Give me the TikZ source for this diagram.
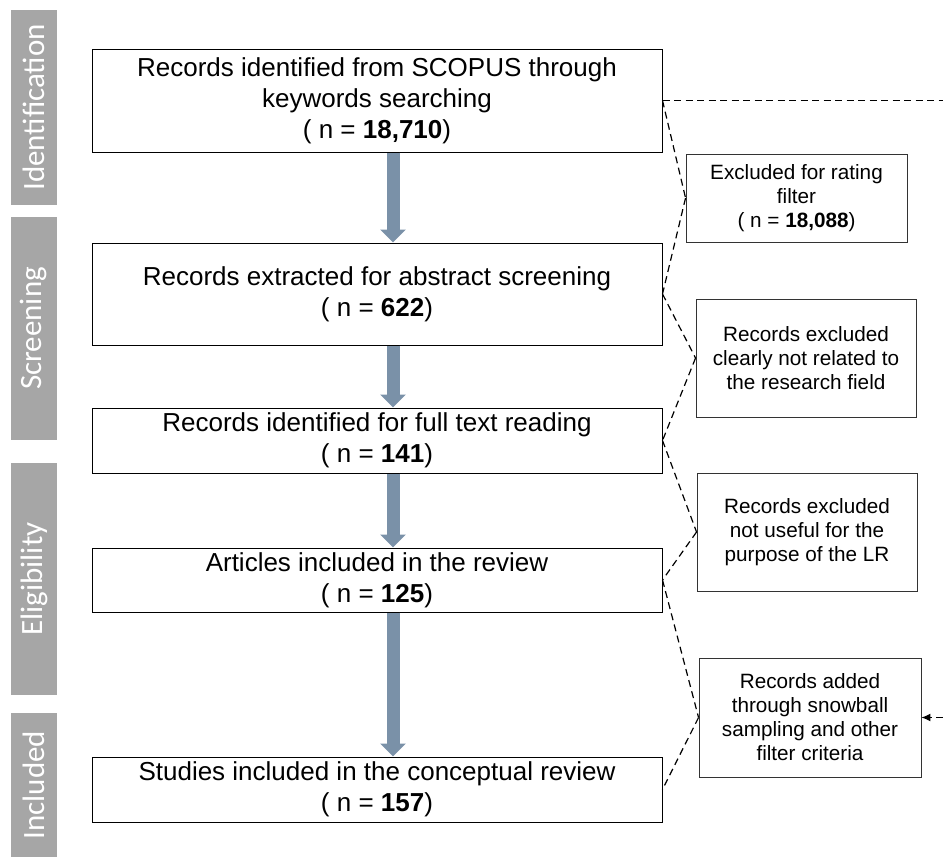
\documentclass[tikz,border=0pt]{standalone}
\usepackage{fontspec}
\setmainfont{Liberation Sans}
\newfontfamily\labfont{Carlito}
\usetikzlibrary{arrows.meta,calc}
\definecolor{labgray}{HTML}{A6A6A6}
\definecolor{flowblue}{HTML}{7A91A8}
\tikzset{
  mainbox/.style={draw=black, line width=1pt, minimum width=570pt, inner sep=0pt,
    align=center, font={\fontsize{26}{31}\selectfont}},
  sidebox/.style={draw=black!80, line width=0.9pt, minimum width=220pt, inner sep=0pt,
    align=center, font={\fontsize{20.7}{24}\selectfont}},
  phase/.style={fill=labgray, minimum width=46pt, inner sep=0pt, text=white,
    font={\labfont\fontsize{31}{31}\selectfont}},
  flowarrow/.style={draw=flowblue, line width=13pt,
    -{Triangle[width=25pt,length=13pt]}, shorten >=0pt},
  dashlink/.style={draw=black, line width=1.2pt, dash pattern=on 7pt off 4.5pt}
}
\begin{document}
\begin{tikzpicture}[x=1pt,y=-1pt]
\useasboundingbox (0,0) rectangle (943,857);
% phase labels
\node[phase, minimum height=195pt] (p1) at (34,107.5) {\rotatebox{90}{Identification}};
\node[phase, minimum height=223pt] (p2) at (34,328.5) {\rotatebox{90}{Screening}};
\node[phase, minimum height=232pt] (p3) at (34,579) {\rotatebox{90}{Eligibility}};
\node[phase, minimum height=144pt] (p4) at (34,785) {\rotatebox{90}{Included}};
% main boxes
\node[mainbox, minimum height=103pt] (b1) at (377,100.5)
  {Records identified from SCOPUS through\\keywords searching\\( n = \textbf{18,710})};
\node[mainbox, minimum height=102pt] (b2) at (377,294)
  {Records extracted for abstract screening\\( n = \textbf{622})};
\node[mainbox, minimum height=65pt] (b3) at (377,440.5)
  {Records identified for full text reading\\( n = \textbf{141})};
\node[mainbox, minimum height=64pt] (b4) at (377,580)
  {Articles included in the review\\( n = \textbf{125})};
\node[mainbox, minimum height=65pt] (b5) at (377,789.5)
  {Studies included in the conceptual review\\( n = \textbf{157})};
% side boxes
\node[sidebox, minimum width=221pt, minimum height=88pt] (e1) at (796.5,198)
  {Excluded for rating\\filter\\( n = \textbf{18,088})};
\node[sidebox, minimum height=118pt] (e2) at (806,358)
  {Records excluded\\clearly not related to\\the research field};
\node[sidebox, minimum height=118pt] (e3) at (807,532)
  {Records excluded\\not useful for the\\purpose of the LR};
\node[sidebox, minimum width=222pt, minimum height=119pt] (e4) at (810,717.5)
  {Records added\\through snowball\\sampling and other\\filter criteria};
% flow arrows
\coordinate (ax) at (393,0);
\draw[flowarrow] (b1.south -| ax) -- (b2.north -| ax);
\draw[flowarrow] (b2.south -| ax) -- (b3.north -| ax);
\draw[flowarrow] (b3.south -| ax) -- (b4.north -| ax);
\draw[flowarrow] (b4.south -| ax) -- (b5.north -| ax);
% dashed links
\draw[dashlink] (b1.east) -- (e1.west);
\draw[dashlink] (e1.west) -- (b2.east);
\draw[dashlink] (b2.east) -- (e2.west);
\draw[dashlink] (e2.west) -- (b3.east);
\draw[dashlink] (b3.east) -- (e3.west);
\draw[dashlink] (e3.west) -- (b4.east);
\draw[dashlink] (b4.east) -- (e4.west);
\draw[dashlink] (e4.west) -- (b5.east);
\coordinate (r1) at (943,100.5);
\coordinate (r2) at (943,717.5);
\draw[dashlink] (b1.east) -- (r1);
\draw[dashlink, -{Latex[length=9pt,width=8pt]}] (r2) -- (e4.east);
\end{tikzpicture}
\end{document}
